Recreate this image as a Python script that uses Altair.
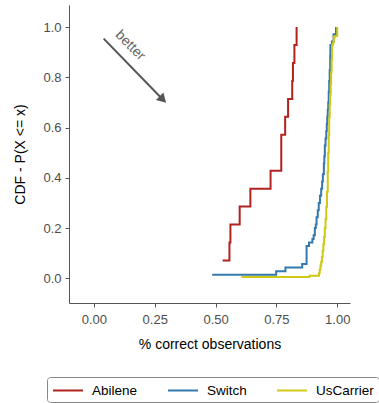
import altair as alt
import numpy as np
import pandas as pd

# Share of correctly classified observations per measurement, by network
abilene_obs = [0.529, 0.557, 0.561, 0.599, 0.643, 0.726, 0.770, 0.770,
               0.786, 0.798, 0.815, 0.818, 0.824, 0.833]

switch_values = [0.486, 0.749, 0.787, 0.856, 0.874, 0.884, 0.898, 0.903,
                 0.908, 0.912, 0.915, 0.920, 0.924, 0.929, 0.934, 0.938,
                 0.941, 0.945, 0.947, 0.949, 0.952, 0.955, 0.957, 0.959,
                 0.961, 0.963, 0.965, 0.967, 0.969, 0.971, 0.972, 0.978,
                 0.985, 0.995]
switch_counts = [1, 1, 1, 1, 5, 1, 1, 1,
                 2, 1, 2, 2, 2, 2, 2, 2,
                 2, 3, 2, 3, 2, 2, 2, 2,
                 2, 2, 3, 3, 3, 4, 3, 1,
                 2, 2]

uscarrier_values = [0.606, 0.886, 0.925, 0.928, 0.931, 0.934, 0.937, 0.940,
                    0.943, 0.946, 0.949, 0.952, 0.955, 0.958, 0.961, 0.963,
                    0.965, 0.967, 0.969, 0.971, 0.973, 0.975, 0.977, 0.979,
                    0.983, 0.986, 0.990, 1.000]
uscarrier_counts = [1, 1, 2, 3, 3, 3, 4, 5,
                    5, 6, 7, 7, 10, 12, 16, 15,
                    14, 14, 10, 8, 9, 9, 10, 12,
                    2, 4, 1, 7]

series_names = ["Abilene", "Switch", "UsCarrier"]
series_colors = ["#B2221F", "#3379AE", "#CFC814"]

x_ticks = [0, 0.25, 0.5, 0.75, 1.0]
y_ticks = [0, 0.2, 0.4, 0.6, 0.8, 1.0]

# "better" annotation: arrow from upper left towards lower right
arrow_from = [0.040, 0.954]
arrow_to = [0.279, 0.716]
label_at = [0.149, 0.927]
label_text = "better"

obs = pd.DataFrame({
    "network": (["Abilene"] * len(abilene_obs)
                + ["Switch"] * int(sum(switch_counts))
                + ["UsCarrier"] * int(sum(uscarrier_counts))),
    "value": (list(abilene_obs)
              + list(np.repeat(switch_values, switch_counts))
              + list(np.repeat(uscarrier_values, uscarrier_counts))),
})

FONT = "Liberation Sans"
x_title = "% correct observations"
y_title = "CDF - P(X <= x)"
x_scale = alt.Scale(domain=[-0.1025, 1.0525], nice=False, zero=False)
y_scale = alt.Scale(domain=[-0.098, 1.088], nice=False, zero=False)

lines = alt.Chart(obs).transform_window(
    cdf="cume_dist()", groupby=["network"], sort=[alt.SortField("value")]
).mark_line(interpolate="step-after", strokeWidth=2).encode(
    x=alt.X("value:Q", scale=x_scale, title=x_title,
            axis=alt.Axis(values=x_ticks, format=".2f")),
    y=alt.Y("cdf:Q", scale=y_scale, title=y_title,
            axis=alt.Axis(values=y_ticks, format=".1f")),
    color=alt.Color(
        "network:N",
        scale=alt.Scale(domain=series_names, range=series_colors),
        legend=alt.Legend(
            title=None, orient="none", direction="horizontal",
            legendX=-22, legendY=372,
            strokeColor="#888888", padding=5, cornerRadius=3,
            columnPadding=26, symbolType="M-1,0H3", symbolSize=225,
            symbolStrokeWidth=2, labelFontSize=13.5, labelFont=FONT,
            labelColor="#000000", labelOffset=23,
        ),
    ),
    order=alt.Order("value:Q"),
)

arrow_df = pd.DataFrame({"x0": [arrow_from[0]], "y0": [arrow_from[1]],
                         "x1": [arrow_to[0]], "y1": [arrow_to[1]]})
shaft = alt.Chart(arrow_df).mark_rule(color="#555555", strokeWidth=2).encode(
    x=alt.X("x0:Q", scale=x_scale, title=x_title),
    y=alt.Y("y0:Q", scale=y_scale, title=y_title),
    x2="x1:Q", y2="y1:Q",
)
head = alt.Chart(arrow_df).mark_point(
    shape="triangle", filled=True, color="#555555", size=110, angle=135, opacity=1
).encode(
    x=alt.X("x1:Q", scale=x_scale, title=x_title),
    y=alt.Y("y1:Q", scale=y_scale, title=y_title),
)

label_df = pd.DataFrame({"x": [label_at[0]], "y": [label_at[1]], "t": [label_text]})
label = alt.Chart(label_df).mark_text(
    angle=45, font=FONT, fontSize=14, color="#666666"
).encode(
    x=alt.X("x:Q", scale=x_scale, title=x_title),
    y=alt.Y("y:Q", scale=y_scale, title=y_title),
    text="t:N",
)

chart = alt.layer(lines, shaft, head, label).properties(
    width=281, height=298, autosize="none",
    padding={"left": 69, "top": 5, "right": 29, "bottom": 100},
).configure_view(stroke=None).configure_axis(
    grid=False, domainColor="#555555", tickColor="#555555", tickSize=4,
    labelFont=FONT, labelFontSize=13, labelColor="#4D4D4D",
    titleFont=FONT, titleFontSize=14, titleFontWeight="normal", titleColor="#000000",
).configure_axisX(labelPadding=6, titlePadding=11).configure_axisY(
    labelPadding=4, titlePadding=15
)

chart.save("out.html", embed_options={"renderer": "svg", "actions": False})
